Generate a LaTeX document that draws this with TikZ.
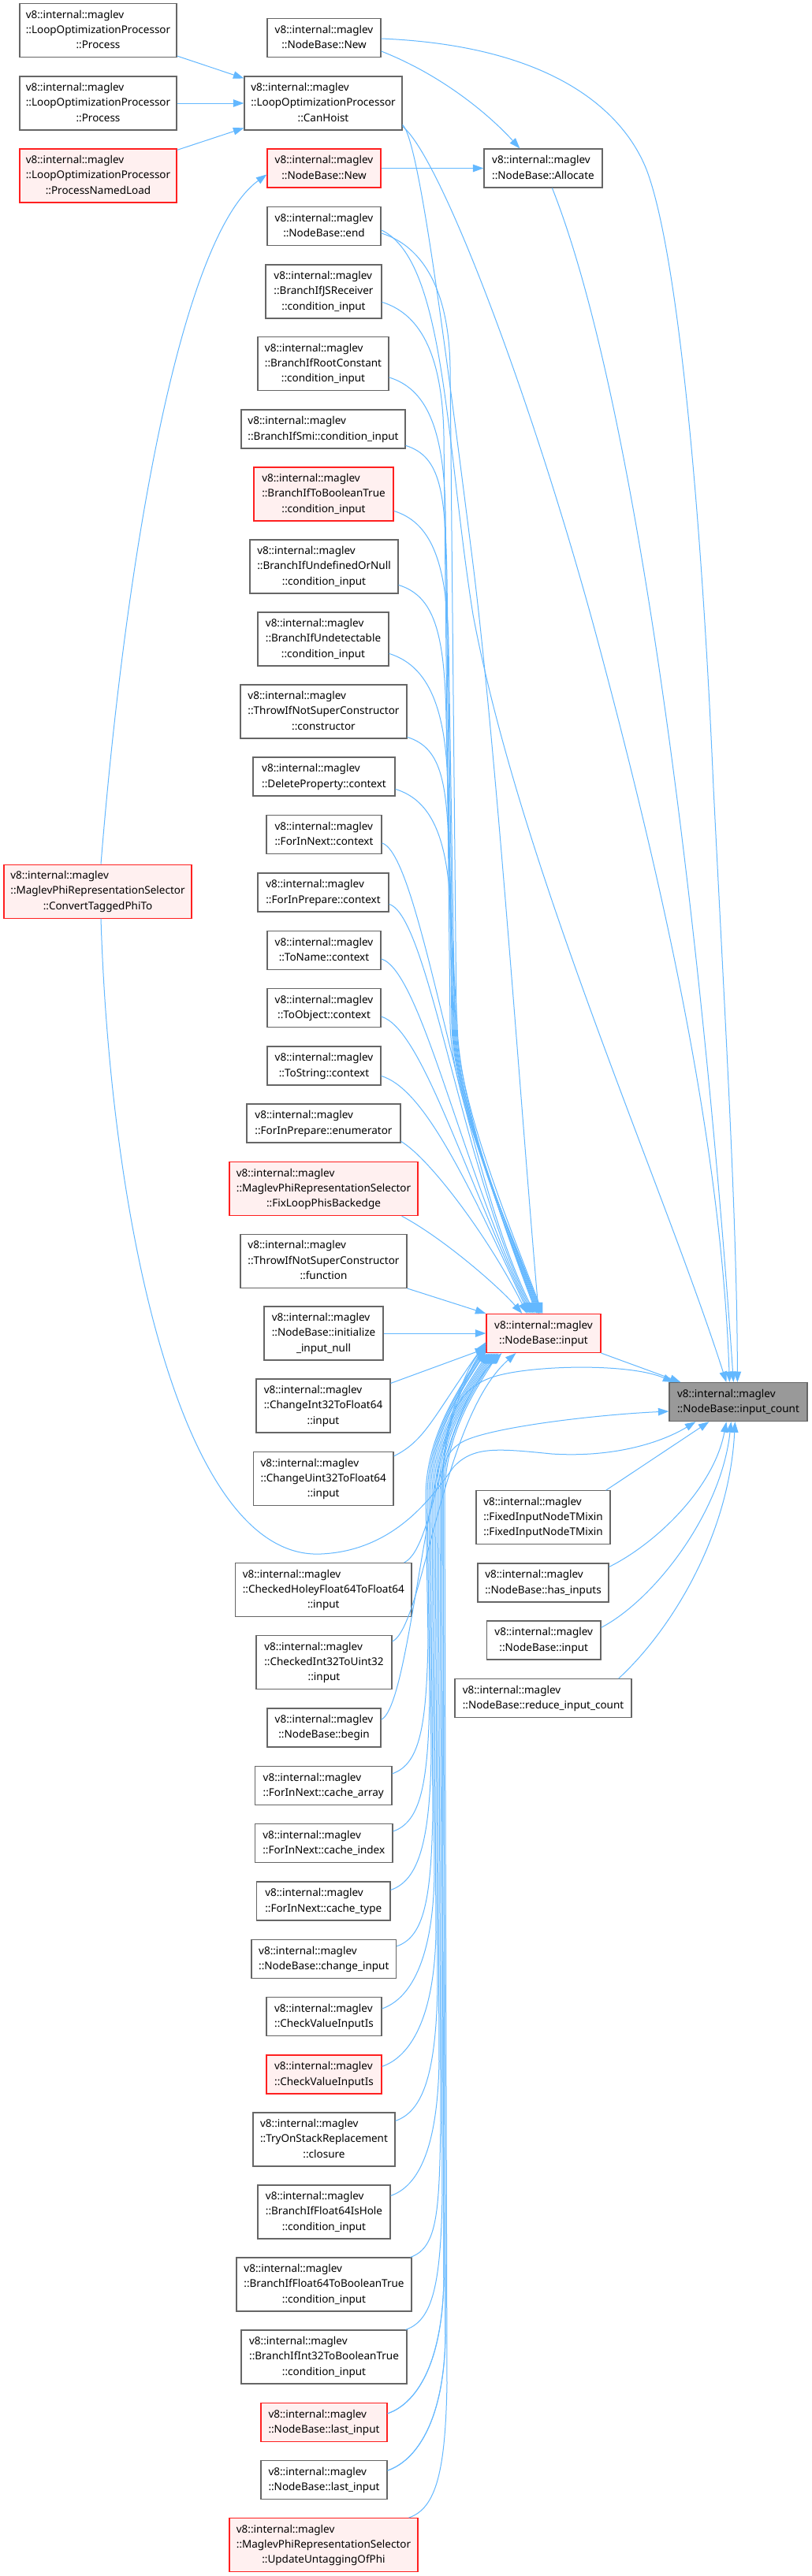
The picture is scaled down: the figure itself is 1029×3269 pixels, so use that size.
\documentclass[tikz,border=0pt]{standalone}
\usepackage{fontspec}
\setmainfont{Noto Sans}
\usetikzlibrary{arrows.meta,calc}
\definecolor{cedge}{HTML}{63B8FF}
\definecolor{cbord}{HTML}{666666}
\definecolor{cred}{HTML}{FF2020}
\definecolor{cpink}{HTML}{FFF0F0}
\definecolor{cgray}{HTML}{999999}
\newcommand{\twoL}[2]{\begin{tabular}{@{}l@{}}#1\\\multicolumn{1}{@{}c@{}}{#2}\end{tabular}}
\newcommand{\thrL}[3]{\begin{tabular}{@{}l@{}}#1\\#2\\\multicolumn{1}{@{}c@{}}{#3}\end{tabular}}
\newcommand{\vim}{v8::internal::maglev}
\newcommand{\nd}[7]{\node[#1, minimum width=#5pt, minimum height=#6pt] (#2) at (#3,#4) {#7};}
% upper edges into NodeBase::input (two segments via bundle)
\newcommand{\upE}[5]{\draw[edge] let \p1=($(#1.north east)+(#2,#3)$), \p2=($(inp.north west)+(#5,0)$) in
 (\p1) .. controls (\x1+45pt,\y1-14pt) and ({#4pt-2pt},\y1-60pt) .. (#4pt,\y1-170pt)
 -- ({#4pt+8pt},-1300pt)
 .. controls ({#4pt+10pt},-1400pt) and (\x2-40pt,\y2+107pt) .. (\p2);}
\newcommand{\upF}[4]{\draw[edge] let \p1=($(#1.north east)+(#2,#3)$), \p2=($(inp.north west)+(#4,0)$) in
 (\p1) .. controls (\x1+50pt,\y1-15pt) and (585pt,-1480pt) .. (\p2);}
% lower edges into NodeBase::input
\newcommand{\loE}[6]{\draw[edge] let \p1=($(#1.north east)+(#2,#3)$), \p2=($(inp.south west)+(#5,#6)$) in
 (\p1) .. controls (\x1+35pt,\y1+12pt) and ({#4pt-2pt},\y1+60pt) .. (#4pt,\y1+170pt)
 -- ({#4pt-3pt},-1900pt)
 .. controls ({#4pt-3pt},-1820pt) and (\x2-30pt,\y2-48pt) .. (\p2);}
\newcommand{\loF}[6]{\draw[edge] let \p1=($(#1.north east)+(#2,#3)$), \p2=($(inp.south west)+(#5,#6)$) in
 (\p1) .. controls (\x1+40pt,\y1+20pt) and (#4pt,-1800pt) .. (\p2);}
\begin{document}
\begin{tikzpicture}[x=1pt,y=-1pt,
  box/.style={draw=cbord, fill=white, line width=1.2pt, inner sep=0pt,
    font=\fontsize{13.5}{19.3}\selectfont},
  redbox/.style={box, draw=cred, fill=cpink},
  graybox/.style={box, draw=cbord, fill=cgray},
  edge/.style={draw=cedge, line width=1pt, -{Triangle[length=13.5pt,width=9.5pt]}}]
\useasboundingbox (0,0) rectangle (1029,3269);
\fill[white] (0,0) rectangle (1029,3269);
% left column
\nd{box}{p1}{124.5}{38.6}{199}{68}{\thrL{\vim}{::LoopOptimizationProcessor}{::Process}}
\nd{box}{p2}{124.5}{131}{199}{68}{\thrL{\vim}{::LoopOptimizationProcessor}{::Process}}
\nd{redbox}{pnl}{124.5}{223}{199}{68}{\thrL{\vim}{::LoopOptimizationProcessor}{::ProcessNamedLoad}}
\nd{redbox}{ctp}{124}{1131.1}{238}{68}{\thrL{\vim}{::MaglevPhiRepresentationSelector}{::ConvertTaggedPhiTo}}
% middle column
\nd{box}{nt}{411}{48.1}{144}{49}{\twoL{\vim}{::NodeBase::New}}
\nd{box}{ch}{410}{131}{200}{68}{\thrL{\vim}{::LoopOptimizationProcessor}{::CanHoist}}
\nd{redbox}{nr}{411}{213.5}{144}{49}{\twoL{\vim}{::NodeBase::New}}
\nd{box}{en}{411}{287}{144}{49}{\twoL{\vim}{::NodeBase::end}}
\nd{box}{jsr}{410.5}{370}{147}{68}{\thrL{\vim}{::BranchIfJSReceiver}{::condition\_input}}
\nd{box}{rc}{410}{461.5}{166}{68}{\thrL{\vim}{::BranchIfRootConstant}{::condition\_input}}
\nd{box}{smi}{410}{544.5}{208}{49}{\twoL{\vim}{::BranchIfSmi::condition\_input}}
\nd{redbox}{tbt}{410.5}{627}{177}{68}{\thrL{\vim}{::BranchIfToBooleanTrue}{::condition\_input}}
\nd{box}{uon}{411}{719}{188}{68}{\thrL{\vim}{::BranchIfUndefinedOrNull}{::condition\_input}}
\nd{box}{und}{410}{811}{166}{68}{\thrL{\vim}{::BranchIfUndetectable}{::condition\_input}}
\nd{box}{ctor}{410.5}{903}{211}{68}{\thrL{\vim}{::ThrowIfNotSuperConstructor}{::constructor}}
\nd{box}{dp}{411}{985.5}{180}{49}{\twoL{\vim}{::DeleteProperty::context}}
\nd{box}{fnc}{411}{1059}{146}{49}{\twoL{\vim}{::ForInNext::context}}
\nd{box}{fpc}{410}{1132.5}{166}{49}{\twoL{\vim}{::ForInPrepare::context}}
\nd{box}{tn}{411}{1205.9}{144}{49}{\twoL{\vim}{::ToName::context}}
\nd{box}{tob}{411}{1279.1}{144}{49}{\twoL{\vim}{::ToObject::context}}
\nd{box}{ts}{411}{1352.5}{144}{49}{\twoL{\vim}{::ToString::context}}
\nd{box}{enm}{410.5}{1425.5}{195}{49}{\twoL{\vim}{::ForInPrepare::enumerator}}
\nd{redbox}{flp}{410.5}{1508.6}{239}{68}{\thrL{\vim}{::MaglevPhiRepresentationSelector}{::FixLoopPhisBackedge}}
\nd{box}{fn}{410.5}{1600.4}{211}{68}{\thrL{\vim}{::ThrowIfNotSuperConstructor}{::function}}
\nd{box}{ini}{410.5}{1692}{151}{68}{\thrL{\vim}{::NodeBase::initialize}{\_input\_null}}
\nd{box}{ci32}{410}{1784}{170}{68}{\thrL{\vim}{::ChangeInt32ToFloat64}{::input}}
\nd{box}{cu32}{410.25}{1876.5}{177.5}{68}{\thrL{\vim}{::ChangeUint32ToFloat64}{::input}}
\nd{box}{chf}{410.3}{2017.6}{223.4}{68}{\thrL{\vim}{::CheckedHoleyFloat64ToFloat64}{::input}}
\nd{box}{ciu}{411}{2109.7}{172}{68}{\thrL{\vim}{::CheckedInt32ToUint32}{::input}}
\nd{box}{beg}{411}{2192.4}{144}{49}{\twoL{\vim}{::NodeBase::begin}}
\nd{box}{ca}{410.25}{2265.9}{173.5}{49}{\twoL{\vim}{::ForInNext::cache\_array}}
\nd{box}{cix}{410.75}{2339.1}{174.5}{49}{\twoL{\vim}{::ForInNext::cache\_index}}
\nd{box}{ct}{410.25}{2412.5}{169.5}{49}{\twoL{\vim}{::ForInNext::cache\_type}}
\nd{box}{chi}{410.8}{2485.9}{183.6}{49}{\twoL{\vim}{::NodeBase::change\_input}}
\nd{box}{cvi}{411}{2559.1}{146}{49}{\twoL{\vim}{::CheckValueInputIs}}
\nd{redbox}{cvr}{411}{2632.5}{146}{49}{\twoL{\vim}{::CheckValueInputIs}}
\nd{box}{tos}{411}{2715}{180}{68}{\thrL{\vim}{::TryOnStackReplacement}{::closure}}
\nd{box}{fih}{411}{2807}{168}{68}{\thrL{\vim}{::BranchIfFloat64IsHole}{::condition\_input}}
\nd{box}{ftb}{411}{2899}{222}{68}{\thrL{\vim}{::BranchIfFloat64ToBooleanTrue}{::condition\_input}}
\nd{box}{itb}{411}{2991}{210}{68}{\thrL{\vim}{::BranchIfInt32ToBooleanTrue}{::condition\_input}}
\nd{redbox}{lir}{411}{3073.9}{160}{49}{\twoL{\vim}{::NodeBase::last\_input}}
\nd{box}{li}{411}{3147.2}{160}{49}{\twoL{\vim}{::NodeBase::last\_input}}
\nd{redbox}{upd}{410.5}{3229.6}{239}{68}{\thrL{\vim}{::MaglevPhiRepresentationSelector}{::UpdateUntaggingOfPhi}}
% right columns
\nd{box}{al}{689}{213.5}{150}{49}{\twoL{\vim}{::NodeBase::Allocate}}
\nd{redbox}{inp}{689.5}{1692}{145}{49}{\twoL{\vim}{::NodeBase::input}}
\nd{box}{fx}{689}{1925.8}{170}{68}{\thrL{\vim}{::FixedInputNodeTMixin}{::FixedInputNodeTMixin}}
\nd{box}{hi}{689}{2008.5}{166}{49}{\twoL{\vim}{::NodeBase::has\_inputs}}
\nd{box}{ip}{689.75}{2081.5}{144.5}{49}{\twoL{\vim}{::NodeBase::input}}
\nd{box}{ric}{689}{2155.2}{224}{49}{\twoL{\vim}{::NodeBase::reduce\_input\_count}}
\nd{graybox}{ic}{936.5}{1779.1}{175}{49}{\twoL{\vim}{::NodeBase::input\_count}}
% ---------- edges ----------
\draw[edge] ($(p1.north east)+(0,67)$) -- ($(ch.north west)+(0,3)$);
\draw[edge] (p2.east) -- (ch.west);
\draw[edge] ($(pnl.north east)+(0,2)$) -- ($(ch.north west)+(0,66)$);
\draw[edge] ($(nt.north east)+(0,42)$) .. controls (560,95) and (620,145) .. ($(al.north west)+(46,0)$);
\draw[edge] (nr.east) -- (al.west);
\draw[edge] ($(nt.north east)+(0,26)$) .. controls (700,58) and (790,140) .. (820,215)
  .. controls (860,320) and (890,650) .. (905,1000)
  .. controls (920,1300) and (935,1550) .. ($(ic.north west)+(87,0)$);
\draw[edge] ($(al.south west)+(87,0)$) .. controls (820,540) and (900,1300) .. ($(ic.north west)+(82,0)$);
\draw[edge] ($(ch.north east)+(0,64)$) .. controls (560,200) and (680,520) .. (760,820)
  .. controls (840,1120) and (915,1450) .. ($(ic.north west)+(77,0)$);
\draw[edge] ($(ch.north east)+(0,62)$) .. controls (530,175) and (560,400) .. (598,700)
  .. controls (630,950) and (660,1400) .. ($(inp.north west)+(67,0)$);
\draw[edge] ($(en.north east)+(0,30)$) .. controls (565,330) and (565,560) .. (600,780)
  .. controls (660,1100) and (840,1500) .. ($(ic.north west)+(73,0)$);
\draw[edge] ($(ctp.north)+(4,0)$) .. controls (160,700) and (230,300) .. ($(nr.north west)+(0,33)$);
\draw[edge] ($(ctp.south)+(4,0)$) .. controls (140,1550) and (230,1980) .. (407,1972)
  .. controls (500,1968) and (548,1900) .. (575,1862)
  .. controls (600,1835) and (630,1838) .. (700,1845)
  .. controls (780,1850) and (840,1830) .. ($(ic.south west)+(34,0)$);
% upper callers of NodeBase::input
\upE{en}{0}{34}{571}{72}
\upE{jsr}{0}{48}{563}{71}
\upE{rc}{0}{52}{565}{70}
\upE{smi}{0}{46}{567}{69}
\upE{tbt}{0}{56}{569}{68}
\upE{uon}{0}{58}{566}{67}
\upE{und}{0}{53}{568}{66}
\upE{ctor}{0}{67}{570}{65}
\upE{dp}{0}{41}{572}{64}
\upF{fnc}{0}{36}{62}
\upF{fpc}{0}{40}{60}
\upF{tn}{0}{36}{58}
\upF{tob}{0}{36}{56}
\upF{ts}{0}{38}{54}
\draw[edge] ($(enm.north east)+(0,48)$) .. controls (545,1470) and (620,1570) .. ($(inp.north west)+(52,0)$);
\draw[edge] ($(flp.south east)+(-21,0)$) .. controls (560,1570) and (630,1630) .. ($(inp.north west)+(46,0)$);
\draw[edge] (fn.south east) -- (inp.north west);
\draw[edge] (ini.east) -- (inp.west);
\draw[edge] ($(ci32.north east)+(0,6)$) -- ($(inp.south west)+(0,-6)$);
% lower callers of NodeBase::input
\loF{cu32}{0}{6}{548}{0}{-14}
\loF{chf}{-10}{0}{555}{20}{0}
\loF{ciu}{0}{8}{560}{38}{0}
\loF{beg}{0}{15}{541}{0}{-11}
\loE{ca}{0}{10}{543}{0}{-9}
\loE{cix}{0}{10}{545}{0}{-7}
\loE{ct}{0}{11}{547}{0}{-4}
\loE{chi}{0}{9}{549}{0}{-2}
\loE{cvi}{0}{15}{551}{2}{0}
\loE{cvr}{0}{15}{553}{4}{0}
\loE{tos}{0}{11}{555}{6}{0}
\loE{fih}{0}{14}{557}{8}{0}
\loE{ftb}{-2}{0}{559}{10}{0}
\loE{itb}{-2}{0}{561}{12}{0}
\loE{lir}{0}{14}{563}{0}{-12}
\loE{li}{0}{13}{565}{14}{0}
\loE{upd}{-12}{0}{567}{16}{0}
% last_input -> input_count
\draw[edge] let \p1=($(li.north east)+(0,13)$), \p2=($(ic.north west)+(6,0)$) in
 (\p1) .. controls (\x1+35pt,\y1+12pt) and (563pt,\y1+60pt) .. (565pt,\y1+170pt)
 -- (562pt,-1900pt) .. controls (560pt,-1800pt) and (580pt,-1760pt) .. (630pt,-1746pt)
 .. controls (680pt,-1732pt) and (800pt,-1730pt) .. (\p2);
\draw[edge] let \p1=($(lir.north east)+(0,14)$), \p2=($(ic.north west)+(0,37)$) in
 (\p1) .. controls (\x1+35pt,\y1+12pt) and (561pt,\y1+60pt) .. (563pt,\y1+170pt)
 -- (560pt,-1900pt) .. controls (560pt,-1860pt) and (565pt,-1840pt) .. (590pt,-1828pt)
 .. controls (630pt,-1810pt) and (760pt,-1795pt) .. (\p2);
% into input_count
\draw[edge] (inp.south east) -- ($(ic.north west)+(15,0)$);
\draw[edge] ($(fx.north east)+(-6,0)$) -- ($(ic.south west)+(51,0)$);
\draw[edge] ($(hi.north east)+(0,5)$) .. controls (830,1960) and (905,1890) .. ($(ic.south west)+(73,0)$);
\draw[edge] ($(ip.north east)+(0,9)$) .. controls (830,2030) and (915,1920) .. ($(ic.south west)+(79,0)$);
\draw[edge] ($(ric.north east)+(-17,0)$) .. controls (850,2070) and (925,1950) .. ($(ic.south west)+(84,0)$);
\end{tikzpicture}
\end{document}
